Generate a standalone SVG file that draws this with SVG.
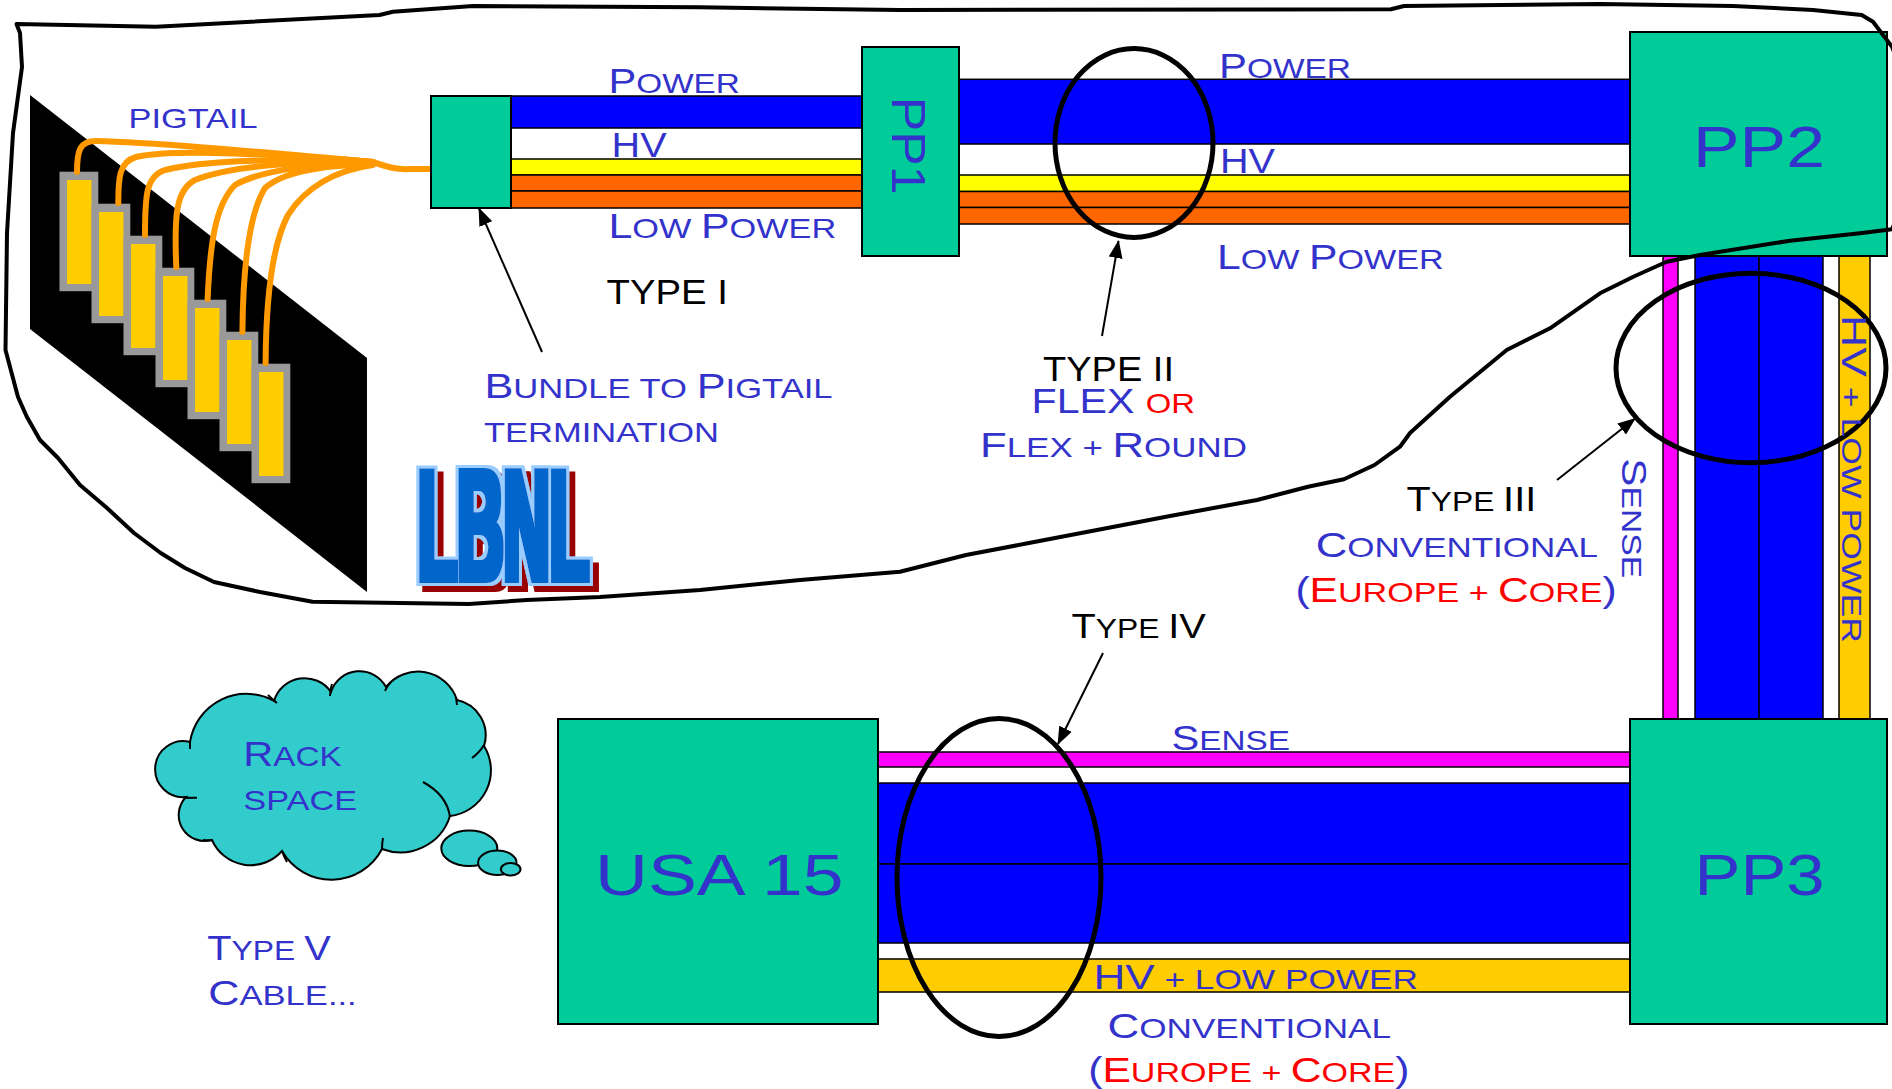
<svg xmlns="http://www.w3.org/2000/svg" width="1892" height="1089" viewBox="0 0 1892 1089">
  <style>
    .lbl{font-family:"Liberation Sans",Arial,sans-serif;fill:#3333cc}
    .blk{fill:#000}
    .red{fill:#ff0000}
    .B{font-size:35px}
    .S{font-size:28px}
    .pp{font-size:58px}
    .box{fill:#00cc99;stroke:#000;stroke-width:2}
    .band{stroke:#000;stroke-width:1.5}
    .blue{fill:#0000ff}
    .yel{fill:#ffff00}
    .org{fill:#ff6600}
    .mag{fill:#ff00ff}
    .gold{fill:#ffcc00}
    .ring{fill:none;stroke:#000;stroke-width:5}
    .arrow{fill:none;stroke:#000;stroke-width:2;marker-end:url(#ah)}
    .wire{fill:none;stroke:#ff9900;stroke-width:6;stroke-linecap:round;stroke-linejoin:round}
    .conn{fill:#999999}
    .pin{fill:#ffcc00}
    .cloud{fill:#33cccc;stroke:#000;stroke-width:2}
    .tick{fill:none;stroke:#000;stroke-width:2}
    .outline{fill:none;stroke:#000;stroke-width:4;stroke-linejoin:round;stroke-linecap:round}
  </style>
  <defs>
    <marker id="ah" viewBox="0 0 18 14" refX="17" refY="7" markerWidth="18" markerHeight="14" markerUnits="userSpaceOnUse" orient="auto">
      <path d="M0,0 L18,7 L0,14 Z" fill="#000"/>
    </marker>
    <!-- heavy logo lettering: thickened body, light rim, offset dark-red shadow -->
    <filter id="logo" filterUnits="userSpaceOnUse" x="380" y="420" width="260" height="200">
      <feMorphology in="SourceAlpha" operator="dilate" radius="3" result="fat"/>
      <feMorphology in="SourceAlpha" operator="dilate" radius="5.5" result="rim"/>
      <feFlood flood-color="#0066cc"/>
      <feComposite in2="fat" operator="in" result="fatc"/>
      <feFlood flood-color="#99ccff"/>
      <feComposite in2="rim" operator="in" result="rimc"/>
      <feOffset in="rim" dx="6" dy="6" result="sh"/>
      <feFlood flood-color="#990000"/>
      <feComposite in2="sh" operator="in" result="shc"/>
      <feMerge>
        <feMergeNode in="shc"/>
        <feMergeNode in="rimc"/>
        <feMergeNode in="fatc"/>
      </feMerge>
    </filter>
  </defs>

  <rect width="1892" height="1089" fill="#fff"/>

  <!-- detector module panel with stepped pigtail connectors -->
  <g id="pigtail-panel">
    <polygon points="30,95 367,358 367,592 30,329" fill="#000"/>
    <g>
      <rect class="conn" x="59.5" y="171.7" width="38.8" height="119.5"/><rect class="pin" x="67" y="180" width="24.5" height="104"/>
      <rect class="conn" x="91.5" y="203.7" width="38.8" height="119.5"/><rect class="pin" x="99" y="212" width="24.5" height="104"/>
      <rect class="conn" x="123.5" y="235.7" width="38.8" height="119.5"/><rect class="pin" x="131" y="244" width="24.5" height="104"/>
      <rect class="conn" x="155.5" y="267.7" width="38.8" height="119.5"/><rect class="pin" x="163" y="276" width="24.5" height="104"/>
      <rect class="conn" x="187.5" y="299.7" width="38.8" height="119.5"/><rect class="pin" x="195" y="308" width="24.5" height="104"/>
      <rect class="conn" x="219.5" y="331.7" width="38.8" height="119.5"/><rect class="pin" x="227" y="340" width="24.5" height="104"/>
      <rect class="conn" x="251.5" y="363.7" width="38.8" height="119.5"/><rect class="pin" x="259" y="372" width="24.5" height="104"/>
    </g>
  </g>

  <!-- cable runs between patch panels -->
  <g id="connectors">
    <!-- pigtail wires -->
    <path class="wire" d="M77,172 C77,150 80,141 96,141 C150,142 260,152 373,162"/>
    <path class="wire" d="M118.3,203 C118.3,178 119,162 136,157 C175,148 280,155 373,162"/>
    <path class="wire" d="M145,235 C145,195 146,176 165,170 C205,160 290,158 373,162"/>
    <path class="wire" d="M176.3,267 C174,215 176,190 195,180 C230,166 300,161 373,162"/>
    <path class="wire" d="M207.6,299 C210,245 215,205 235,185 C260,170 320,163 373,163"/>
    <path class="wire" d="M242.4,332 C243,270 248,215 265,188 C285,170 330,165 373,164"/>
    <path class="wire" d="M265.6,363 C266,300 272,245 288,215 C305,188 335,170 373,165"/>
    <path class="wire" d="M340,159 L373,162 C385,166 395,170 410,169 L431,169" stroke-width="7"/>

    <!-- Type I : bundle to PP1 -->
    <rect class="band blue" x="511" y="96" width="351" height="32"/>
    <rect class="band yel" x="511" y="159" width="351" height="16"/>
    <rect class="band org" x="511" y="175" width="351" height="16"/>
    <rect class="band org" x="511" y="191" width="351" height="17"/>

    <!-- Type II : PP1 to PP2 -->
    <rect class="band blue" x="959" y="79.3" width="671" height="64.7"/>
    <rect class="band yel" x="959" y="175" width="671" height="16.5"/>
    <rect class="band org" x="959" y="191.5" width="671" height="16"/>
    <rect class="band org" x="959" y="207.5" width="671" height="16.5"/>

    <!-- Type III : PP2 to PP3 -->
    <rect class="band mag" x="1663" y="256" width="15" height="463"/>
    <rect class="band blue" x="1695" y="256" width="64" height="463"/>
    <rect class="band blue" x="1759" y="256" width="64" height="463"/>
    <rect class="band gold" x="1839" y="256" width="31" height="463"/>

    <!-- Type IV : PP3 to USA 15 -->
    <rect class="band mag" x="878" y="752" width="752" height="15"/>
    <rect class="band blue" x="878" y="783" width="752" height="81"/>
    <rect class="band blue" x="878" y="864" width="752" height="79"/>
    <rect class="band gold" x="878" y="959" width="752" height="33"/>
  </g>

  <!-- patch panels -->
  <g id="bundle-termination">
    <rect class="box" x="431" y="96" width="80" height="112"/>
  </g>
  <g id="pp1">
    <rect class="box" x="862" y="47" width="97" height="209"/>
    <text class="lbl" transform="translate(892,96.7) rotate(90)" x="0" y="0" font-size="49" textLength="98" lengthAdjust="spacingAndGlyphs">PP1</text>
  </g>
  <g id="pp2">
    <rect class="box" x="1630" y="32" width="257" height="224"/>
    <text class="lbl pp" x="1693" y="166.7" textLength="132" lengthAdjust="spacingAndGlyphs">PP2</text>
  </g>
  <g id="pp3">
    <rect class="box" x="1630" y="719" width="257" height="305"/>
    <text class="lbl pp" x="1694.6" y="895" textLength="130" lengthAdjust="spacingAndGlyphs">PP3</text>
  </g>
  <g id="usa15">
    <rect class="box" x="558" y="719" width="320" height="305"/>
    <text class="lbl pp" x="595" y="895" textLength="248.6" lengthAdjust="spacingAndGlyphs">USA 15</text>
  </g>

  <!-- hand-drawn boundary of the inner detector volume -->
  <path id="boundary" class="outline" d="M16.5,24 L20,33 L22,67 L13,133 L7,233 L5.5,350 L15.6,388 L18,397 L26.8,416.7 L40,440 L58,458 L80,485 L107,508 L134,533 L160.7,553 L185,568 L214,582 L260,592 L312.5,601.7 L400,603 L468.7,604 L526.8,600 L600,597 L700,590 L800,580 L900,571.7 L966,555 L1027.6,543.3 L1114,526.7 L1170,516 L1257,500 L1308,486.7 L1343.9,479.3 L1374.5,465 L1400,446.7 L1410,433 L1450,396.7 L1506.7,350 L1550,328.3 L1600,293.3 L1633.3,276.7 L1666.7,261.7 L1700,255 L1790,240.7 L1860,233.3 L1892,229.3 L1905,200 L1905,80 L1892,46.7 L1873,21.7 L1861.7,15 L1813,10 L1733,6 L1600,4 L1404,6 L1391,9.3 L900,10 L700,7.3 L473,6 L392.8,11.7 L379.5,15 L156,26.7 Z"/>

  <!-- cable type call-outs -->
  <g id="callouts">
    <ellipse class="ring" cx="1134" cy="143" rx="79" ry="94.5"/>
    <ellipse class="ring" cx="1751" cy="368" rx="135" ry="94.7"/>
    <ellipse class="ring" cx="999" cy="877.5" rx="102" ry="159"/>
    <line class="arrow" x1="542" y1="352" x2="479" y2="208.5"/>
    <line class="arrow" x1="1102" y1="336" x2="1118.5" y2="241"/>
    <line class="arrow" x1="1557" y1="480" x2="1635" y2="418.5"/>
    <line class="arrow" x1="1103" y1="653" x2="1058" y2="744"/>
  </g>

  <!-- labels -->
  <g id="labels">
    <text class="lbl" x="128.6" y="127.7" textLength="129" lengthAdjust="spacingAndGlyphs"><tspan class="S">PIGTAIL</tspan></text>

    <text class="lbl" x="608.5" y="93.3" textLength="131.3" lengthAdjust="spacingAndGlyphs"><tspan class="B">P</tspan><tspan class="S">OWER</tspan></text>
    <text class="lbl" x="611.6" y="156.7" textLength="55" lengthAdjust="spacingAndGlyphs"><tspan class="B">HV</tspan></text>
    <text class="lbl" x="608.5" y="238.3" textLength="227.7" lengthAdjust="spacingAndGlyphs"><tspan class="B">L</tspan><tspan class="S">OW </tspan><tspan class="B">P</tspan><tspan class="S">OWER</tspan></text>
    <text class="lbl blk" x="606.6" y="304" textLength="121.4" lengthAdjust="spacingAndGlyphs"><tspan class="B">TYPE I</tspan></text>

    <text class="lbl" x="484.4" y="397.7" textLength="348.2" lengthAdjust="spacingAndGlyphs"><tspan class="B">B</tspan><tspan class="S">UNDLE TO </tspan><tspan class="B">P</tspan><tspan class="S">IGTAIL</tspan></text>
    <text class="lbl" x="484" y="441.7" textLength="235" lengthAdjust="spacingAndGlyphs"><tspan class="S">TERMINATION</tspan></text>

    <text class="lbl" x="1219" y="77.7" textLength="132" lengthAdjust="spacingAndGlyphs"><tspan class="B">P</tspan><tspan class="S">OWER</tspan></text>
    <text class="lbl" x="1220" y="173.3" textLength="55" lengthAdjust="spacingAndGlyphs"><tspan class="B">HV</tspan></text>
    <text class="lbl" x="1217" y="269.3" textLength="226.7" lengthAdjust="spacingAndGlyphs"><tspan class="B">L</tspan><tspan class="S">OW </tspan><tspan class="B">P</tspan><tspan class="S">OWER</tspan></text>

    <text class="lbl blk" x="1043" y="380.7" textLength="131" lengthAdjust="spacingAndGlyphs"><tspan class="B">TYPE II</tspan></text>
    <text class="lbl" x="1031.6" y="413.3" textLength="163.4" lengthAdjust="spacingAndGlyphs"><tspan class="B">FLEX </tspan><tspan class="S red">OR</tspan></text>
    <text class="lbl" x="980" y="457.3" textLength="267" lengthAdjust="spacingAndGlyphs"><tspan class="B">F</tspan><tspan class="S">LEX + </tspan><tspan class="B">R</tspan><tspan class="S">OUND</tspan></text>

    <text class="lbl blk" x="1406.6" y="510.7" textLength="129.6" lengthAdjust="spacingAndGlyphs"><tspan class="B">T</tspan><tspan class="S">YPE </tspan><tspan class="B">III</tspan></text>
    <text class="lbl" x="1315.8" y="557.3" textLength="282.2" lengthAdjust="spacingAndGlyphs"><tspan class="B">C</tspan><tspan class="S">ONVENTIONAL</tspan></text>
    <text class="lbl" x="1295.4" y="601.7" textLength="321.4" lengthAdjust="spacingAndGlyphs"><tspan class="B">(</tspan><tspan class="B red">E</tspan><tspan class="S red">UROPE + </tspan><tspan class="B red">C</tspan><tspan class="S red">ORE</tspan><tspan class="B">)</tspan></text>

    <text class="lbl" transform="translate(1622,458.3) rotate(90)" x="0" y="0" textLength="120" lengthAdjust="spacingAndGlyphs"><tspan class="B">S</tspan><tspan class="S">ENSE</tspan></text>
    <text class="lbl" transform="translate(1842,315) rotate(90)" x="0" y="0" textLength="328" lengthAdjust="spacingAndGlyphs"><tspan class="B">HV</tspan><tspan class="S"> + LOW POWER</tspan></text>

    <text class="lbl blk" x="1071.6" y="637.7" textLength="134.2" lengthAdjust="spacingAndGlyphs"><tspan class="B">T</tspan><tspan class="S">YPE </tspan><tspan class="B">IV</tspan></text>
    <text class="lbl" x="1171.6" y="750" textLength="118.4" lengthAdjust="spacingAndGlyphs"><tspan class="B">S</tspan><tspan class="S">ENSE</tspan></text>
    <text class="lbl" x="1093.5" y="989.3" textLength="324.5" lengthAdjust="spacingAndGlyphs"><tspan class="B">HV</tspan><tspan class="S"> + LOW POWER</tspan></text>
    <text class="lbl" x="1107.5" y="1037.7" textLength="283.5" lengthAdjust="spacingAndGlyphs"><tspan class="B">C</tspan><tspan class="S">ONVENTIONAL</tspan></text>
    <text class="lbl" x="1088.3" y="1082.3" textLength="321.2" lengthAdjust="spacingAndGlyphs"><tspan class="B">(</tspan><tspan class="B red">E</tspan><tspan class="S red">UROPE + </tspan><tspan class="B red">C</tspan><tspan class="S red">ORE</tspan><tspan class="B">)</tspan></text>

    <text class="lbl" x="207.3" y="960" textLength="123.4" lengthAdjust="spacingAndGlyphs"><tspan class="B">T</tspan><tspan class="S">YPE </tspan><tspan class="B">V</tspan></text>
    <text class="lbl" x="208.3" y="1005" textLength="148.4" lengthAdjust="spacingAndGlyphs"><tspan class="B">C</tspan><tspan class="S">ABLE...</tspan></text>
  </g>

  <!-- laboratory logo -->
  <g id="lbnl" filter="url(#logo)">
    <text transform="translate(418,579.5) scale(1,2.45)" x="0" y="0" font-family="'Liberation Sans',Arial,sans-serif" font-weight="bold" font-size="64" textLength="171" lengthAdjust="spacingAndGlyphs" fill="#0066cc">LBNL</text>
  </g>

  <!-- thought bubble: rack space -->
  <g id="rack-space">
    <path class="cloud" d="M190,742 A57,57 0 0 1 274,701 A32,32 0 0 1 331,692 A30,30 0 0 1 386,687 A41,41 0 0 1 457,700 A36,36 0 0 1 484,746 A46,46 0 0 1 450,816 A52,52 0 0 1 382,849 A57,57 0 0 1 282,851 A42,42 0 0 1 212,840 A26,26 0 0 1 186,797 A28,28 0 1 1 190,742 Z"/>
    <path class="tick" d="M268,695 Q272,699 277,703 M330,696 Q330,689 332,684 M385,691 Q387,686 391,682 M457,705 L456,697 M472,758 Q480,752 484,745 M423,782 Q447,795 450,817 M382,849 Q382,843 383,838 M282,851 Q284,857 287,862 M203,840 Q208,840.5 213,840 M186,798 Q191,797.5 197,797.7 M190,741 L190,749"/>
    <ellipse class="cloud" cx="469.3" cy="848.3" rx="28" ry="17.7"/>
    <ellipse class="cloud" cx="497.3" cy="862.7" rx="19.2" ry="12.2"/>
    <ellipse class="cloud" cx="510.7" cy="869.3" rx="9.8" ry="6.2"/>
    <text class="lbl" x="243.3" y="765.7" textLength="98.4" lengthAdjust="spacingAndGlyphs"><tspan class="B">R</tspan><tspan class="S">ACK</tspan></text>
    <text class="lbl" x="243.3" y="810" textLength="114" lengthAdjust="spacingAndGlyphs"><tspan class="S">SPACE</tspan></text>
  </g>
</svg>
